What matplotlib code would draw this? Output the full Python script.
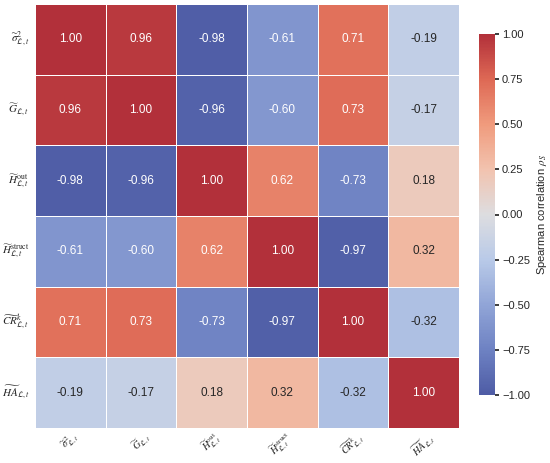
import numpy as np
import pandas as pd
import seaborn as sns
from matplotlib import pyplot as plt
from matplotlib.colors import LinearSegmentedColormap

labels = [r"$\widetilde{\sigma}^2_{\mathcal{L},t}$",
          r"$\widetilde{G}_{\mathcal{L},t}$",
          r"$\widetilde{H}^{\mathrm{out}}_{\mathcal{L},t}$",
          r"$\widetilde{H}^{\mathrm{struct}}_{\mathcal{L},t}$",
          r"$\widetilde{CR}^{k}_{\mathcal{L},t}$",
          r"$\widetilde{HA}_{\mathcal{L},t}$"]

row_sigma = [1.00, 0.96, -0.98, -0.61, 0.71, -0.19]
row_g = [0.96, 1.00, -0.96, -0.60, 0.73, -0.17]
row_hout = [-0.98, -0.96, 1.00, 0.62, -0.73, 0.18]
row_hstruct = [-0.61, -0.60, 0.62, 1.00, -0.97, 0.32]
row_cr = [0.71, 0.73, -0.73, -0.97, 1.00, -0.32]
row_ha = [-0.19, -0.17, 0.18, 0.32, -0.32, 1.00]

corr = pd.DataFrame([row_sigma, row_g, row_hout, row_hstruct, row_cr, row_ha],
                    index=labels, columns=labels)

# softened coolwarm, as in the original figure
anchors = [(78, 92, 165), (110, 130, 195), (145, 165, 215), (185, 202, 232),
           (221, 221, 224), (242, 195, 175), (240, 155, 125), (222, 105, 85),
           (178, 48, 58)]
cmap = LinearSegmentedColormap.from_list("soft_cw", [tuple(v / 255 for v in c) for c in anchors])

sns.set_theme(style="white")
plt.rcParams['font.family'] = ['Liberation Sans', 'DejaVu Sans']
plt.rcParams['mathtext.fontset'] = 'stix'

fig = plt.figure(figsize=(5.5, 4.63), dpi=100)
ax = fig.add_axes([35/550, 1-428/463, 424/550, 424/463])
cax = fig.add_axes([479/550, 1-395/463, 16/550, 361/463])

sns.heatmap(corr, ax=ax, cbar_ax=cax, cmap=cmap, vmin=-1, vmax=1,
            annot=True, fmt=".2f", linewidths=0.7, linecolor="white",
            annot_kws={"fontsize": 8.5},
            cbar_kws={"label": r"Spearman correlation $\rho_S$"})

ax.set_xticklabels(labels, rotation=45, fontsize=7.5)
ax.set_yticklabels(labels, rotation=0, fontsize=8)
ax.tick_params(axis="x", length=0, pad=1)
ax.tick_params(axis="y", length=0, pad=4)
cax.tick_params(labelsize=8, length=3, pad=2)
cax.set_ylabel(r"Spearman correlation $\rho_S$", fontsize=8, labelpad=4)
for s in cax.spines.values():
    s.set_visible(False)

plt.savefig("out.png", dpi=100)
